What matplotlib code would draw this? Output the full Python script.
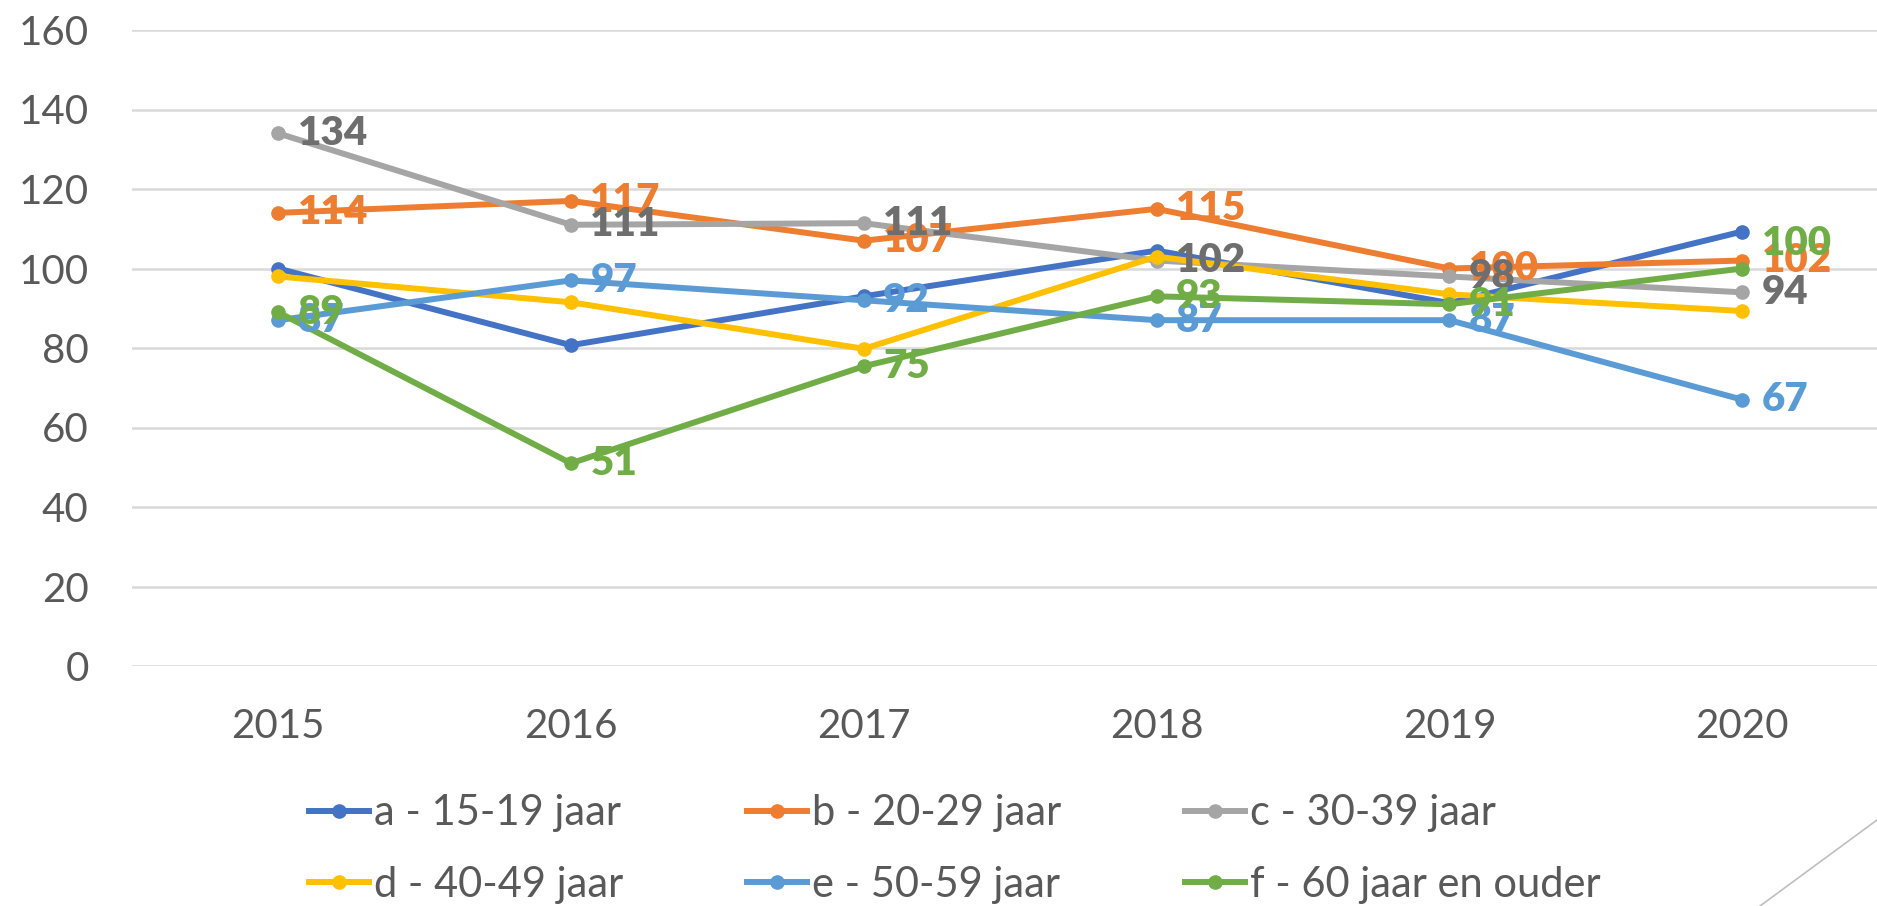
import matplotlib.pyplot as plt
from matplotlib.lines import Line2D

years = ["2015", "2016", "2017", "2018", "2019", "2020"]

a_15_19 = [100, 80.7, 93, 104.5, 91.3, 109.3]
b_20_29 = [114, 117, 107, 115, 100, 102]
c_30_39 = [134, 111, 111.4, 102, 98, 94]
d_40_49 = [98, 91.5, 79.8, 103, 93.5, 89.3]
e_50_59 = [87, 97, 92, 87, 87, 67]
f_60_plus = [89, 51, 75.4, 93, 91, 100]

names = ["a - 15-19 jaar", "b - 20-29 jaar", "c - 30-39 jaar",
         "d - 40-49 jaar", "e - 50-59 jaar", "f - 60 jaar en ouder"]
series = [a_15_19, b_20_29, c_30_39, d_40_49, e_50_59, f_60_plus]
colors = ["#4472C4", "#ED7D31", "#A5A5A5", "#FFC000", "#5B9BD5", "#70AD47"]
# only these series carry data labels in the original chart
label_colors = [None, "#ED7D31", "#6E6E6E", None, "#5B9BD5", "#70AD47"]

plt.rcParams['font.family'] = ['Lato', 'DejaVu Sans']

fig = plt.figure(figsize=(18.77, 9.06), dpi=100)
ax = fig.add_axes([131.7 / 1877, 1 - 666 / 906, 1757 / 1877, 636 / 906])

x = list(range(len(years)))
handles = []
for vals, name, col in zip(series, names, colors):
    h, = ax.plot(x, vals, color=col, lw=4.3, marker='o', markersize=9.5,
                 solid_joinstyle='round', label=name)
    handles.append(h)

for si, (vals, lc) in enumerate(zip(series, label_colors)):
    if lc is None:
        continue
    for xi, v in zip(x, vals):
        dy = 0
        if si == 5 and xi == 5:
            dy = 18  # green label at 2020 was nudged up in the original
        ax.annotate(f"{round(v)}", (xi, v), xytext=(14, dy),
                    textcoords='offset points', va='center', ha='left',
                    fontsize=29, fontweight=800, color=lc, zorder=5)

ax.set_xlim(-0.5, 5.5)
ax.set_ylim(0, 160)
ax.set_yticks(range(0, 161, 20))
ax.set_xticks(x)
ax.set_xticklabels(years)
ax.grid(axis='y', color='#D9D9D9', lw=1.8)
ax.set_axisbelow(True)
for s in ax.spines.values():
    s.set_visible(False)
ax.tick_params(length=0, labelsize=29, labelcolor='#595959')
ax.tick_params(axis='x', pad=30)
ax.tick_params(axis='y', pad=31)

order = [0, 3, 1, 4, 2, 5]
fig.legend([handles[i] for i in order], [names[i] for i in order],
           ncol=3, loc='center left', bbox_to_anchor=(309 / 1877, 0.063),
           frameon=False, fontsize=30, labelcolor='#595959',
           borderpad=0, borderaxespad=0,
           handlelength=1.45, handletextpad=0.1, columnspacing=2.98,
           labelspacing=0.8)

fig.add_artist(Line2D([1.0, 1760 / 1877], [1 - 820 / 906, 0],
                      color='#BFBFBF', lw=1.2))

fig.savefig("out.png", dpi=100)
